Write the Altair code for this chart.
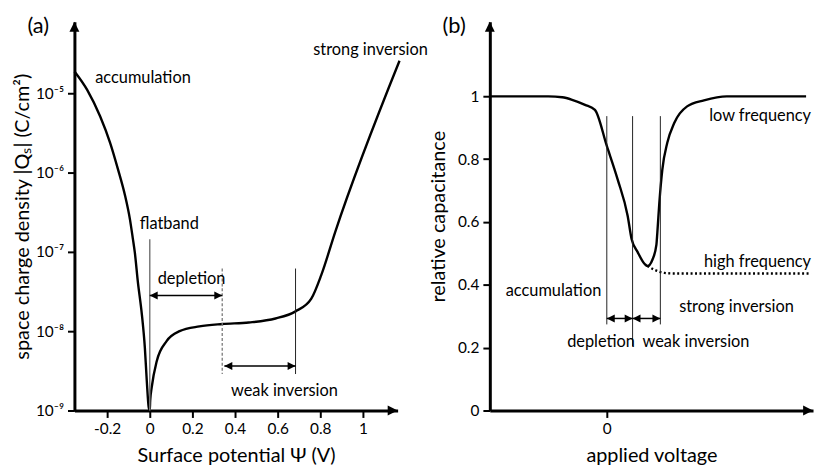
import altair as alt
import pandas as pd

FONT = "Lato"

# ---------------- panel (a) data ----------------
psi = [-0.353, -0.293, -0.233, -0.186, -0.149, -0.116, -0.093, -0.079, -0.070, -0.056,
       -0.037, -0.023, -0.014, -0.005, 0.0, 0.002, 0.009, 0.033, 0.079, 0.14, 0.233,
       0.34, 0.465, 0.59, 0.684, 0.758, 0.805, 0.87, 1.172]
logq = [-4.725, -4.96, -5.29, -5.625, -5.96, -6.29, -6.59, -6.84, -7.01, -7.375,
        -7.79, -8.21, -8.625, -8.96, -9.0, -8.875, -8.71, -8.375, -8.125, -8.0, -7.94,
        -7.91, -7.89, -7.84, -7.75, -7.59, -7.29, -6.75, -4.59]

a_xticks = [-0.2, 0, 0.2, 0.4, 0.6, 0.8, 1]
a_yticks = [-9, -8, -7, -6, -5]
a_ylabels = ["10⁻⁹", "10⁻⁸", "10⁻⁷", "10⁻⁶", "10⁻⁵"]
a_xdomain = [-0.3535, 1.163]
a_ydomain = [-9, -4.1]

# vertical marker lines: x, y_top, y_bottom, style
a_vl_x = [0.0, 0.34, 0.684]
a_vl_top = [-6.84, -7.21, -7.21]
a_vl_bot = [-9.0, -8.54, -8.54]
a_vl_style = ["flat", "dash", "solid"]

# double arrows: x_start, x_end, y
a_arr_x1 = [0.0, 0.35]
a_arr_x2 = [0.34, 0.684]
a_arr_y = [-7.55, -8.44]

a_txt = ["accumulation", "strong inversion", "flatband", "depletion", "weak inversion"]
a_txt_x = [-0.256, 0.767, -0.047, 0.037, 0.381]
a_txt_y = [-4.81, -4.46, -6.65, -7.34, -8.76]

# ---------------- panel (b) data ----------------
volt = [-1.18, -0.59, -0.45, -0.35, -0.22, -0.12, 0.0, 0.11, 0.21, 0.25, 0.31, 0.38, 0.41,
        0.46, 0.50, 0.51, 0.53, 0.56, 0.61, 0.68, 0.81, 0.98, 1.21, 2.01]
cap_lf = [1.0, 1.0, 0.997, 0.989, 0.973, 0.957, 0.842, 0.735, 0.62, 0.546, 0.505, 0.467,
          0.46, 0.48, 0.527, 0.568, 0.662, 0.767, 0.852, 0.915, 0.968, 0.987, 1.0, 1.0]
volt_hf = [0.41, 0.48, 0.58, 0.68, 2.06]
cap_hf = [0.46, 0.448, 0.438, 0.436, 0.436]

b_yticks = [0, 0.2, 0.4, 0.6, 0.8, 1]
b_xticks = [0]
b_xdomain = [-1.18, 2.08]
b_ydomain = [0, 1.237]

b_vl_x = [0.0, 0.26, 0.54]
b_vl_top = [0.937, 0.937, 0.937]
b_vl_bot = [0.274, 0.205, 0.274]

b_arr_x1 = [0.0, 0.26]
b_arr_x2 = [0.26, 0.54]
b_arr_y = [0.293, 0.293]

b_txt_left = ["accumulation", "strong inversion", "depletion", "weak inversion"]
b_txt_left_x = [-1.02, 0.73, -0.40, 0.36]
b_txt_left_y = [0.379, 0.328, 0.218, 0.218]
b_txt_right = ["low frequency", "high frequency"]
b_txt_right_x = [2.06, 2.06]
b_txt_right_y = [0.937, 0.473]

W, H = 326, 392
TXT = 16.5

UP = "M0,0L1,2L-1,2Z"
RIGHT = "M0,0L-2,-1L-2,1Z"
SM_RIGHT = "M0,0L-2,-1L-2,1Z"
SM_LEFT = "M0,0L2,-1L2,1Z"


def label_expr(vals, labels):
    expr = "''"
    for v, l in zip(vals, labels):
        expr = f"datum.value == {v} ? '{l}' : ({expr})"
    return expr


def panel(xdom, ydom, xticks, yticks, xlab_expr, ylab_expr, xtitle, ytitle,
          ytitle_pad, curves, vlines, arrows, texts_left, texts_right, tag, tag_xy):
    xsc = alt.Scale(domain=xdom, nice=False, zero=False)
    ysc = alt.Scale(domain=ydom, nice=False, zero=False)
    xax = alt.Axis(values=xticks, labelExpr=xlab_expr, title=xtitle, titlePadding=9,
                   labelPadding=4)
    yax = alt.Axis(values=yticks, labelExpr=ylab_expr, title=ytitle,
                   titlePadding=ytitle_pad, labelPadding=4)
    layers = []
    for df, dash in curves:
        kw = {"color": "black", "strokeWidth": 2.4, "interpolate": "monotone"}
        if dash:
            kw["strokeDash"] = dash
        mk = alt.Chart(df).mark_line(**kw).encode(
            x=alt.X("x:Q", scale=xsc, axis=xax),
            y=alt.Y("y:Q", scale=ysc, axis=yax))
        layers.append(mk)
    for df, color, width, dash in vlines:
        kw = {"color": color, "strokeWidth": width}
        if dash:
            kw["strokeDash"] = dash
        layers.append(alt.Chart(df).mark_rule(**kw).encode(
            x=alt.X("x:Q", scale=xsc), y=alt.Y("y1:Q", scale=ysc), y2="y2:Q"))
    adf = arrows
    layers.append(alt.Chart(adf).mark_rule(color="black", strokeWidth=1.5).encode(
        x=alt.X("x1:Q", scale=xsc), x2="x2:Q", y=alt.Y("y:Q", scale=ysc)))
    layers.append(alt.Chart(adf).mark_point(shape=SM_RIGHT, size=64, filled=True,
                                            color="black", opacity=1).encode(
        x=alt.X("x2:Q", scale=xsc), y=alt.Y("y:Q", scale=ysc)))
    layers.append(alt.Chart(adf).mark_point(shape=SM_LEFT, size=64, filled=True,
                                            color="black", opacity=1).encode(
        x=alt.X("x1:Q", scale=xsc), y=alt.Y("y:Q", scale=ysc)))
    # axis arrowheads
    ax_df = pd.DataFrame({"x": [xdom[1], xdom[0]], "y": [ydom[0], ydom[1]],
                          "s": [RIGHT, UP]})
    layers.append(alt.Chart(ax_df).mark_point(size=100, filled=True, color="black",
                                              opacity=1).encode(
        x=alt.X("x:Q", scale=xsc), y=alt.Y("y:Q", scale=ysc),
        shape=alt.Shape("s:N", scale=None)))
    if texts_left is not None:
        layers.append(alt.Chart(texts_left).mark_text(
            font=FONT, fontSize=TXT, align="left", baseline="middle", color="black").encode(
            x=alt.X("x:Q", scale=xsc), y=alt.Y("y:Q", scale=ysc), text="t:N"))
    if texts_right is not None:
        layers.append(alt.Chart(texts_right).mark_text(
            font=FONT, fontSize=TXT, align="right", baseline="middle", color="black").encode(
            x=alt.X("x:Q", scale=xsc), y=alt.Y("y:Q", scale=ysc), text="t:N"))
    tag_df = pd.DataFrame({"x": [tag_xy[0]], "y": [tag_xy[1]], "t": [tag]})
    layers.append(alt.Chart(tag_df).mark_text(
        font=FONT, fontSize=22, align="center", baseline="middle", color="black").encode(
        x=alt.X("x:Q", scale=xsc), y=alt.Y("y:Q", scale=ysc), text="t:N"))
    return alt.layer(*layers).properties(width=W, height=H)


# ---- panel a ----
a_curve = pd.DataFrame({"x": psi, "y": logq})
a_vl = pd.DataFrame({"x": a_vl_x, "y1": a_vl_top, "y2": a_vl_bot, "st": a_vl_style})
a_vlines = [
    (a_vl[a_vl.st == "flat"], "#7a7a7a", 1.5, None),
    (a_vl[a_vl.st == "dash"], "#7a7a7a", 1.3, [3, 2]),
    (a_vl[a_vl.st == "solid"], "#222222", 1.0, None),
]
a_arrows = pd.DataFrame({"x1": a_arr_x1, "x2": a_arr_x2, "y": a_arr_y})
a_texts = pd.DataFrame({"x": a_txt_x, "y": a_txt_y, "t": a_txt})

a_xlab = "replace(format(datum.value, '~g'), '\u2212', '-')"
a_ylab = label_expr(a_yticks, a_ylabels)

chart_a = panel(a_xdomain, a_ydomain, a_xticks, a_yticks, a_xlab, a_ylab,
                "Surface potential Ψ (V)", "space charge density |Qₛ| (C/cm²)", 3,
                [(a_curve, None)], a_vlines, a_arrows, a_texts, None, "(a)",
                (-0.523, -4.15))

# ---- panel b ----
b_lf = pd.DataFrame({"x": volt, "y": cap_lf})
b_hf = pd.DataFrame({"x": volt_hf, "y": cap_hf})
b_vl = pd.DataFrame({"x": b_vl_x, "y1": b_vl_top, "y2": b_vl_bot})
b_vlines = [(b_vl, "#222222", 1.0, None)]
b_arrows = pd.DataFrame({"x1": b_arr_x1, "x2": b_arr_x2, "y": b_arr_y})
b_tl = pd.DataFrame({"x": b_txt_left_x, "y": b_txt_left_y, "t": b_txt_left})
b_tr = pd.DataFrame({"x": b_txt_right_x, "y": b_txt_right_y, "t": b_txt_right})

b_xlab = "format(datum.value, '~g')"
b_ylab = "format(datum.value, '~g')"

chart_b = panel(b_xdomain, b_ydomain, b_xticks, b_yticks, b_xlab, b_ylab,
                "applied voltage", "relative capacitance", 9,
                [(b_lf, None), (b_hf, [2, 2.5])], b_vlines, b_arrows, b_tl, b_tr, "(b)",
                (-1.54, 1.224))

chart = alt.hconcat(chart_a, chart_b, spacing=0).properties(
    padding={"left": 4, "top": 5, "right": 0, "bottom": 0}
).configure_view(stroke=None).configure_axis(
    grid=False, domainColor="black", domainWidth=3, tickColor="black", tickWidth=2,
    tickSize=7, labelFont=FONT, labelFontSize=15.5, labelColor="black", titleFont=FONT,
    titleFontSize=20, titleFontWeight="normal", titleColor="black"
)

chart.save("out.html", embed_options={"renderer": "svg", "actions": False})
